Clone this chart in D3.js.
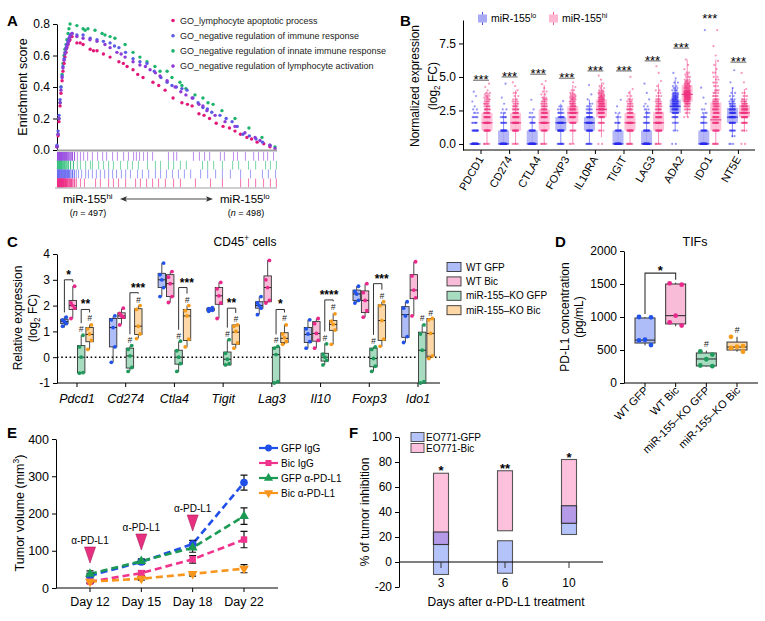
<!DOCTYPE html>
<html><head><meta charset="utf-8">
<script src="https://cdn.jsdelivr.net/npm/d3@7"></script>
<style>
body{margin:0;background:#fff;}
svg{font-family:"Liberation Sans",Arial,Helvetica,sans-serif;}
</style></head><body>
<svg id="fig" width="765" height="621"></svg>
<script>
// ===================== DATA =====================
// ---- Panel A (GSEA) : [rank, enrichment score]
const aSeriesNames = ["GO_lymphocyte apoptotic process","GO_negative regulation of immune response","GO_negative regulation of innate immune response","GO_negative regulation of lymphocyte activation"];
const aYTicks = [0, 0.2, 0.4, 0.6, 0.8];
const aLymphApoptotic = [[0,0.02],[5,0.09],[9,0.18],[14,0.28],[18,0.36],[23,0.44],[27,0.5],[32,0.55],[36,0.59],[41,0.62],[45,0.65],[50,0.67],[54,0.69],[59,0.7],[68,0.72],[90,0.68],[105,0.68],[118,0.67],[150,0.64],[165,0.63],[181,0.63],[210,0.61],[240,0.59],[280,0.56],[300,0.55],[317,0.53],[344,0.51],[365,0.48],[389,0.46],[434,0.43],[460,0.41],[489,0.38],[525,0.33],[565,0.3],[590,0.29],[611,0.28],[642,0.23],[665,0.22],[690,0.2],[720,0.17],[751,0.15],[780,0.14],[805,0.12],[830,0.1],[859,0.08],[880,0.07],[905,0.05],[935,0.04],[963,0.02]];
const aNegImmune = [[0,0.03],[5,0.12],[9,0.22],[14,0.32],[18,0.4],[23,0.47],[27,0.53],[32,0.58],[36,0.62],[41,0.65],[45,0.67],[50,0.69],[54,0.71],[59,0.73],[68,0.74],[90,0.73],[118,0.73],[150,0.71],[181,0.7],[210,0.69],[240,0.68],[260,0.66],[280,0.65],[310,0.62],[344,0.58],[375,0.56],[407,0.55],[440,0.5],[470,0.46],[498,0.43],[520,0.41],[540,0.4],[565,0.39],[588,0.38],[615,0.33],[638,0.3],[660,0.27],[680,0.26],[700,0.24],[737,0.22],[765,0.2],[792,0.18],[815,0.15],[841,0.1],[870,0.09],[900,0.07],[930,0.05],[963,0.03]];
const aNegInnate = [[0,0.02],[5,0.1],[9,0.2],[14,0.3],[18,0.4],[23,0.48],[27,0.55],[32,0.6],[36,0.64],[41,0.67],[45,0.7],[50,0.74],[54,0.77],[59,0.8],[90,0.79],[118,0.77],[127,0.76],[140,0.77],[172,0.76],[204,0.74],[217,0.73],[240,0.72],[262,0.71],[308,0.67],[344,0.62],[375,0.59],[407,0.56],[443,0.53],[466,0.5],[498,0.5],[520,0.46],[556,0.43],[565,0.41],[583,0.39],[624,0.35],[660,0.33],[683,0.3],[706,0.29],[746,0.25],[805,0.2],[868,0.14],[927,0.08],[986,0.02]];
const aNegLymphAct = [[0,0.02],[5,0.1],[9,0.2],[14,0.3],[18,0.38],[23,0.46],[27,0.52],[32,0.57],[36,0.61],[41,0.64],[45,0.66],[50,0.68],[54,0.7],[59,0.72],[68,0.74],[90,0.72],[118,0.71],[149,0.7],[181,0.69],[217,0.67],[240,0.65],[271,0.62],[290,0.61],[308,0.59],[344,0.56],[375,0.54],[400,0.53],[421,0.51],[445,0.49],[466,0.47],[498,0.44],[534,0.4],[560,0.37],[583,0.35],[611,0.33],[642,0.29],[660,0.28],[678,0.25],[715,0.22],[760,0.18],[805,0.15],[850,0.11],[896,0.08],[918,0.06],[963,0.03],[986,0.01]];
// hit ranks per gene set (rows top to bottom: lymphocyte activation, innate, immune response, apoptotic)
const aHitsLymphAct = [0,2,4,6,8,10,12,14,16,18,20,22,25,28,31,34,37,40,44,48,52,57,62,68,77,90,104,118,136,158,181,204,222,249,271,299,321,344,357,371,389,407,430,502,525,539,615,642,665,688,737,755,796,814,850,887,909,932,950,977];
const aHitsInnate = [0,3,6,9,12,15,18,21,25,29,33,38,43,49,59,72,90,104,127,149,158,186,208,231,253,285,317,339,366,407,443,466,502,525,556,583,656,679,706,746,792,819,864,896,941,963,990];
const aHitsImmune = [0,2,4,6,8,10,13,16,19,22,25,28,32,36,40,45,50,55,61,68,76,85,95,109,127,140,158,176,194,213,231,249,267,289,308,330,362,384,412,443,466,493,520,547,574,602,647,679,715,746,782,828,873,927,954,986];
const aHitsApoptotic = [0,2,4,6,8,10,12,14,16,18,20,22,24,27,30,33,36,40,44,48,53,58,64,70,78,86,104,122,172,194,231,253,276,308,353,375,403,430,457,488,525,556,624,692,746,828,864,896,932,963,990];
const aRankMax = 995;

// ---- Panel B : box stats [whiskerLow, q1, median, q3, whiskerHigh], points [value, count]
const bGenes = ["PDCD1","CD274","CTLA4","FOXP3","IL10RA","TIGIT","LAG3","ADA2","IDO1","NT5E"];
const bYTicks = [0, 2.5, 5, 7.5];
const bBoxLo = [[0,0,0,0,0],[0,0,0,1,2.3],[0,0,0,1,2],[0,1,1.58,2,3],[0,1,1.58,2,3.3],[0,0,0,1,2.3],[0,0,0,1,2.5],[1,2.32,2.81,3.32,4.8],[0,0,0,1,2.3],[0.5,1.58,2,2.7,4.2]];
const bBoxHi = [[0,1,1.58,2.32,3.9],[0,1,1.58,2.32,4],[0,1,1.58,2.58,4.4],[0,1.58,2.32,2.81,4.4],[0.5,2,2.58,3.32,4.6],[0,1,1.58,2.32,4],[0,1,1.58,2.4,4.5],[2,3.17,3.7,4.39,6.3],[0,1,1.8,3.1,6.3],[0.9,2,2.32,2.9,4.1]];
const bPtsLo = [
 [[0,50],[1,14],[1.58,6],[2,5],[2.32,3],[2.58,2],[2.81,1],[3.17,1],[3.58,1],[3.9,1]],
 [[0,40],[1,18],[1.58,8],[2,6],[2.32,3],[2.58,2],[3,1],[3.46,1],[4.5,1]],
 [[0,45],[1,16],[1.58,7],[2,4],[2.32,2],[2.58,1],[3.3,1]],
 [[0,10],[1,22],[1.58,18],[2,10],[2.32,6],[2.58,3],[2.81,2],[3.2,1]],
 [[0,8],[1,18],[1.58,20],[2,14],[2.32,8],[2.58,5],[2.81,3],[3,2],[3.32,1],[3.7,1],[4.4,1]],
 [[0,50],[1,14],[1.58,6],[2,3],[2.32,2],[2.81,1],[3.3,1]],
 [[0,45],[1,16],[1.58,8],[2,5],[2.32,4],[2.58,3],[2.81,2],[3,1],[3.32,1],[3.81,1],[4.5,1]],
 [[0,2],[1,3],[1.58,5],[2,8],[2.32,12],[2.58,14],[2.81,15],[3,14],[3.17,12],[3.32,10],[3.46,8],[3.58,7],[3.7,6],[3.81,5],[4,4],[4.17,3],[4.32,2],[4.58,2],[4.9,1],[5.3,1]],
 [[0,48],[1,14],[1.58,7],[2,5],[2.32,3],[2.58,2],[3,1],[3.46,1],[4.2,1],[8.5,1]],
 [[0,3],[0.58,2],[1,8],[1.58,14],[2,18],[2.32,15],[2.58,12],[2.81,9],[3,6],[3.17,4],[3.32,3],[3.58,2],[3.81,2],[4.17,1],[4.6,1],[5.5,1]]
];
const bPtsHi = [
 [[0,6],[1,18],[1.58,20],[2,14],[2.32,12],[2.58,9],[2.81,7],[3,6],[3.17,5],[3.32,4],[3.46,3],[3.58,3],[3.7,2],[3.81,2],[4,1],[4.25,1],[4.5,1]],
 [[0,5],[1,16],[1.58,20],[2,15],[2.32,12],[2.58,9],[2.81,7],[3,5],[3.17,4],[3.32,3],[3.58,2],[3.81,2],[4,1],[4.32,1],[4.6,1]],
 [[0,6],[1,14],[1.58,18],[2,15],[2.32,13],[2.58,10],[2.81,8],[3,6],[3.17,5],[3.32,4],[3.46,3],[3.7,2],[3.91,2],[4.17,1],[4.46,1],[4.7,1]],
 [[0,3],[1,8],[1.58,14],[2,16],[2.32,15],[2.58,13],[2.81,11],[3,9],[3.17,7],[3.32,6],[3.46,5],[3.58,4],[3.7,3],[3.81,2],[4,2],[4.25,1],[4.6,1]],
 [[0,2],[1,4],[1.58,8],[2,12],[2.32,14],[2.58,15],[2.81,14],[3,12],[3.17,11],[3.32,9],[3.46,8],[3.58,6],[3.7,5],[3.81,4],[3.91,3],[4,3],[4.17,2],[4.32,2],[4.5,1],[4.8,1],[5.1,1]],
 [[0,8],[1,18],[1.58,18],[2,14],[2.32,10],[2.58,8],[2.81,6],[3,5],[3.17,4],[3.32,3],[3.58,2],[3.81,1],[4.1,1],[5.0,1]],
 [[0,6],[1,16],[1.58,18],[2,14],[2.32,12],[2.58,9],[2.81,7],[3,6],[3.17,5],[3.32,4],[3.58,3],[3.81,2],[4,2],[4.32,1],[4.7,1],[5.3,1],[5.8,1]],
 [[2,2],[2.32,3],[2.58,5],[2.81,7],[3,9],[3.17,11],[3.32,12],[3.46,13],[3.58,13],[3.7,12],[3.81,11],[3.91,10],[4,9],[4.17,8],[4.32,7],[4.46,6],[4.58,5],[4.7,4],[4.81,3],[5,3],[5.17,2],[5.32,2],[5.58,1],[5.9,1],[6.3,1]],
 [[0,8],[1,14],[1.58,14],[2,12],[2.32,11],[2.58,10],[2.81,9],[3,8],[3.17,7],[3.32,6],[3.58,5],[3.81,4],[4,4],[4.32,3],[4.58,3],[4.81,2],[5,2],[5.32,2],[5.58,1],[5.9,1],[6.2,1],[6.6,1],[7.3,1],[8.5,1]],
 [[0,2],[1,4],[1.58,10],[2,16],[2.32,18],[2.58,15],[2.81,12],[3,8],[3.17,6],[3.32,4],[3.58,3],[3.81,2],[4.1,1],[4.6,1],[5.3,1]]
];
const bSigLevel = [4.75, 5.0, 5.2, 4.9, 5.45, 5.45, 6.2, 7.15, 9.35, 6.1];
const bSigLabel = ["***","***","***","***","***","***","***","***","***","***"];

// ---- Panel C : box stats [min, q1, median, q3, max] and points
const cGenes = ["Pdcd1","Cd274","Ctla4","Tigit","Lag3","Il10","Foxp3","Ido1"];
const cGroups = ["WT GFP","WT Bic","miR-155–KO GFP","miR-155–KO Bic"];
const cYTicks = [-1, 0, 1, 2, 3, 4];
const cBoxWtGfp = [[1.15,1.3,1.38,1.47,1.58],[-0.2,0.4,1.15,1.5,1.58],[2.35,2.7,3.0,3.25,3.65],[1.78,1.8,1.85,1.9,1.92],[1.65,1.9,2.0,2.15,2.35],[0.35,0.57,0.88,1.15,1.45],[2.1,2.2,2.45,2.6,2.75],[0.57,0.77,1.65,1.96,2.15]];
const cBoxWtBic = [[1.5,1.85,2.0,2.2,2.75],[1.27,1.5,1.6,1.72,1.88],[2.12,2.35,2.85,3.2,3.32],[1.5,2.05,2.38,2.7,2.9],[2.1,2.15,2.7,3.15,3.77],[0.35,0.62,0.92,1.38,1.5],[1.55,1.73,2.2,2.57,2.85],[1.6,2.27,2.6,3.2,3.7]];
const cBoxKoGfp = [[-0.62,-0.6,0,0.45,0.85],[-0.54,-0.42,0.05,0.35,0.42],[-0.58,-0.27,0,0.27,0.6],[-0.3,-0.3,-0.08,0.2,0.68],[-1.0,-0.98,0.1,0.38,0.42],[-0.3,-0.15,0,0.15,0.53],[-0.55,-0.37,-0.05,0.35,0.4],[-1.0,-1.0,0.27,0.97,1.27]];
const cBoxKoBic = [[0.3,0.6,0.88,1.15,1.27],[0.73,0.88,1.2,1.88,2.0],[0.38,0.65,1.6,1.85,2.0],[0.35,0.5,0.97,1.25,1.25],[0.5,0.57,0.73,0.95,1.27],[0.5,1.04,1.27,1.42,1.7],[0.4,0.65,1.42,2.03,2.15],[-0.05,0.04,0.92,1.5,1.5]];
const cPtsWtGfp = [[1.2,1.3,1.38,1.45,1.55],[-0.2,0.4,1.15,1.45,1.6],[2.35,2.7,3.0,3.2,3.65],[1.78,1.82,1.85,1.88,1.92],[1.65,1.9,2.0,2.1,2.35],[0.35,0.6,0.9,1.1,1.45],[2.1,2.2,2.45,2.55,2.75],[0.57,0.8,1.6,1.9,2.15]];
const cPtsWtBic = [[1.5,1.9,2.0,2.1,2.75],[1.25,1.55,1.6,1.7,1.9],[2.12,2.35,2.85,3.1,3.32],[1.5,2.1,2.38,2.65,2.9],[2.1,2.2,2.7,3.0,3.75],[0.35,0.65,0.92,1.3,1.5],[1.55,1.8,2.2,2.5,2.85],[1.6,2.3,2.6,3.15,3.7]];
const cPtsKoGfp = [[-0.62,-0.6,0.0,0.4,0.85],[-0.55,-0.4,0.05,0.3,0.45],[-0.55,-0.25,0.0,0.25,0.62],[-0.3,-0.25,-0.08,0.15,0.68],[-1.0,-0.95,0.1,0.35,0.42],[-0.3,-0.12,0.0,0.12,0.52],[-0.55,-0.35,-0.05,0.3,0.4],[-1.0,-0.95,0.27,0.9,1.25]];
const cPtsKoBic = [[0.3,0.65,0.9,1.1,1.25],[0.72,0.9,1.2,1.85,2.0],[0.4,0.7,1.6,1.8,2.0],[0.35,0.55,1.0,1.2,1.25],[0.5,0.6,0.75,0.9,1.25],[0.5,1.05,1.27,1.4,1.68],[0.42,0.7,1.42,2.0,2.15],[-0.05,0.05,0.92,1.45,1.5]];
const cSigGene = ["Pdcd1","Pdcd1","Cd274","Ctla4","Tigit","Lag3","Il10","Foxp3"];
const cSigPair = [[0,1],[2,3],[2,3],[2,3],[2,3],[2,3],[2,3],[2,3]];
const cSigLevel = [3.0, 1.85, 2.5, 2.7, 1.9, 1.85, 2.22, 2.85];
const cSigLabel = ["*","**","***","***","**","*","****","***"];
const cHashGroups = [2, 3];

// ---- Panel D
const dGroups = ["WT GFP","WT Bic","miR-155–KO GFP","miR-155–KO Bic"];
const dYTicks = [0, 500, 1000, 1500, 2000];
const dBox = [[570,606,650,985,1000],[860,895,1020,1500,1520],[250,258,364,455,490],[475,500,545,620,700]];
const dPts = [[1000,995,655,645,575],[1510,1490,1020,920,870],[480,430,360,265,255],[700,560,550,530,475]];
const dSigLevel = 1665, dSigLabel = "*";

// ---- Panel E
const eDays = ["Day 12","Day 15","Day 18","Day 22"];
const eYTicks = [0, 100, 200, 300, 400];
const eNames = ["GFP IgG","Bic IgG","GFP α-PD-L1","Bic α-PD-L1"];
const eGfpIgG = [33, 70, 118, 283];
const eGfpIgGErr = [6, 6, 10, 20];
const eBicIgG = [17, 40, 77, 130];
const eBicIgGErr = [4, 6, 10, 22];
const eGfpPD = [38, 72, 108, 193];
const eGfpPDErr = [8, 6, 12, 22];
const eBicPD = [17, 25, 38, 52];
const eBicPDErr = [4, 4, 6, 11];
const eTreatDays = ["Day 12","Day 15","Day 18"];
const eTreatLevel = [67, 102, 153];

// ---- Panel F
const fDays = ["3","6","10"];
const fYTicks = [-20, 0, 20, 40, 60, 80, 100];
const fGfpRange = [[-10,24],[-9,17],[22,45]];
const fBicRange = [[14,71],[25,73],[31,82]];
const fSig = ["*","**","*"];

// ===================== DRAWING =====================
const svg = d3.select("#fig");
const FONT = '"Liberation Sans", Arial, Helvetica, sans-serif';
function styleAxis(g, fs){
  g.attr("font-family", FONT).attr("font-size", fs);
  g.selectAll("path.domain").attr("stroke","#000").attr("stroke-width",1);
  g.selectAll(".tick line").attr("stroke","#000");
  g.selectAll(".tick text").attr("fill","#000");
}
function rich(t, parts, fs){
  let shift = 0;
  parts.forEach(([s,k])=>{
    const ts = t.append("tspan").text(s);
    const target = k==="sup" ? -0.38*fs : (k==="sub" ? 0.28*fs : 0);
    if(target !== shift){ ts.attr("dy", target-shift); shift = target; }
    if(k==="sup"||k==="sub") ts.attr("font-size", fs*0.68);
    if(k==="it") ts.attr("font-style","italic");
  });
  return t;
}
function label(x,y,txt,fs,anchor){
  return svg.append("text").attr("x",x).attr("y",y).attr("font-size",fs).attr("text-anchor",anchor||"start").attr("fill","#000").text(txt);
}
function panelLetter(x,y,t){ label(x,y,t,15,"start").attr("font-weight","bold"); }
function vLabel(cx,cy,fs,parts){
  const t = svg.append("text").attr("transform",`translate(${cx},${cy}) rotate(-90)`).attr("text-anchor","middle").attr("font-size",fs).attr("fill","#000");
  rich(t, parts, fs); return t;
}

// ---------- Panel A ----------
{
  const xA = d3.scaleLinear().domain([0, aRankMax]).range([57, 277]);
  const yA = d3.scaleLinear().domain([0, 0.8]).range([150, 24]);
  const g = svg.append("g");
  const ax = g.append("g").attr("transform","translate(57,0)")
    .call(d3.axisLeft(yA).tickValues(aYTicks).tickFormat(d3.format(".1f")).tickSize(4).tickSizeOuter(0));
  styleAxis(ax, 12);
  const colors = ["#e2177a","#5b5be6","#1cb36c","#8d3bd6"];
  const series = [aLymphApoptotic, aNegImmune, aNegInnate, aNegLymphAct];
  [2,0,1,3].forEach(si=>{
    g.selectAll(null).data(series[si]).enter().append("circle")
      .attr("cx", d=>xA(d[0])).attr("cy", d=>yA(d[1])).attr("r",1.7).attr("fill", colors[si]);
  });
  const rows = [[aHitsLymphAct,"#9a4fe0"],[aHitsInnate,"#2fbf7a"],[aHitsImmune,"#6a6af0"],[aHitsApoptotic,"#ee2b85"]];
  rows.forEach(([hits,col],ri)=>{
    const y0 = 152 + ri*8.8;
    g.selectAll(null).data(hits).enter().append("line")
      .attr("x1",d=>xA(d)+0.5).attr("x2",d=>xA(d)+0.5).attr("y1",y0).attr("y2",y0+8.8)
      .attr("stroke",col).attr("stroke-width",1.1).attr("stroke-opacity",d=>d<80?0.95:0.6);
  });
  g.append("line").attr("x1",57).attr("x2",277).attr("y1",150.5).attr("y2",150.5).attr("stroke","#a0a0a0").attr("stroke-width",2);
  g.append("line").attr("x1",55).attr("x2",277).attr("y1",188).attr("y2",188).attr("stroke","#888").attr("stroke-width",0.8);
  aSeriesNames.forEach((n,i)=>{
    g.append("circle").attr("cx",173).attr("cy",20.5+i*15.2).attr("r",1.8).attr("fill",colors[i]);
    g.append("text").attr("x",180).attr("y",23.5+i*15.2).attr("font-size",9).attr("fill","#222").text(n);
  });
  rich(g.append("text").attr("x",63).attr("y",203).attr("font-size",11.5), [["miR-155",null],["hi","sup"]], 11.5);
  rich(g.append("text").attr("x",220).attr("y",203).attr("font-size",11.5), [["miR-155",null],["lo","sup"]], 11.5);
  rich(g.append("text").attr("x",88).attr("y",216).attr("font-size",9).attr("text-anchor","middle"), [["(",null],["n","it"],[" = 497)",null]], 9);
  rich(g.append("text").attr("x",246).attr("y",216).attr("font-size",9).attr("text-anchor","middle"), [["(",null],["n","it"],[" = 498)",null]], 9);
  g.append("line").attr("x1",124).attr("x2",209).attr("y1",199).attr("y2",199).attr("stroke","#333").attr("stroke-width",0.9);
  g.append("path").attr("d","M120,199 L127,196.3 L125.5,199 L127,201.7 Z").attr("fill","#333");
  g.append("path").attr("d","M213,199 L206,196.3 L207.5,199 L206,201.7 Z").attr("fill","#333");
  panelLetter(7,26,"A");
  vLabel(26.5,87,12.5,[["Enrichment score",null]]);
}

// ---------- Panel B ----------
{
  const xB = d3.scaleBand().domain(bGenes).range([466.7, 752.7]);
  const yB = d3.scaleLinear().domain([-0.45, 9.25]).range([150, 20]);
  const g = svg.append("g");
  const ax = g.append("g").attr("transform","translate(463,0)")
    .call(d3.axisLeft(yB).tickValues(bYTicks).tickFormat(d3.format(".1f")).tickSize(4).tickSizeOuter(0));
  styleAxis(ax, 12);
  g.append("line").attr("x1",463).attr("x2",755).attr("y1",150).attr("y2",150).attr("stroke","#000");
  const cx = d => xB(d) + xB.bandwidth()/2;
  bGenes.forEach((gn,i)=>{
    g.append("line").attr("x1",cx(gn)).attr("x2",cx(gn)).attr("y1",150).attr("y2",154).attr("stroke","#000");
    g.append("text").attr("transform",`translate(${cx(gn)+3},159) rotate(-60)`).attr("text-anchor","end")
      .attr("font-size",11).attr("fill","#000").text(gn);
  });
  const sets = [[bBoxLo,bPtsLo,-6,"#a9aaf6","#3a3ad8","#2b2bef"],[bBoxHi,bPtsHi,6,"#ffb7d2","#e8448a","#f0307d"]];
  sets.forEach(([boxes,pts,off,fill,med,ptc])=>{
    bGenes.forEach((gn,i)=>{
      const b = boxes[i], x = cx(gn)+off;
      g.append("line").attr("x1",x).attr("x2",x).attr("y1",yB(b[0])).attr("y2",yB(b[4])).attr("stroke",ptc).attr("stroke-width",0.8).attr("stroke-opacity",0.7);
      g.append("rect").attr("x",x-5.5).attr("width",11).attr("y",yB(b[3])).attr("height",Math.max(0.01,yB(b[1])-yB(b[3]))).attr("fill",fill).attr("fill-opacity",0.85);
      g.append("line").attr("x1",x-5.5).attr("x2",x+5.5).attr("y1",yB(b[2])).attr("y2",yB(b[2])).attr("stroke",med).attr("stroke-width",1.2);
    });
  });
  sets.forEach(([boxes,pts,off,fill,med,ptc])=>{
    bGenes.forEach((gn,i)=>{
      let k = 0;
      pts[i].forEach(([v,n])=>{
        for(let j=0;j<n;j++){
          const jit = (((k*0.618034)%1)-0.5)*6; k++;
          g.append("circle").attr("cx",cx(gn)+off+jit).attr("cy",yB(v)).attr("r",1.1).attr("fill",ptc).attr("fill-opacity",0.5);
        }
      });
    });
  });
  bGenes.forEach((gn,i)=>{
    const ly = yB(bSigLevel[i]);
    if(bSigLevel[i] <= yB.domain()[1]) g.append("line").attr("x1",cx(gn)-8).attr("x2",cx(gn)+8).attr("y1",ly).attr("y2",ly).attr("stroke","#8a8a8a").attr("stroke-width",1.3);
    g.append("text").attr("x",cx(gn)).attr("y",ly+4).attr("text-anchor","middle").attr("font-size",13).attr("fill","#000").text(bSigLabel[i]);
  });
  [[478,"#a9aaf6","#3a3ad8","lo",491],[549,"#ffb7d2","#e8448a","hi",562]].forEach(([x,f,c,s,tx])=>{
    g.append("line").attr("x1",x+4.5).attr("x2",x+4.5).attr("y1",12).attr("y2",25).attr("stroke",c).attr("stroke-width",0.9);
    g.append("rect").attr("x",x).attr("y",14.5).attr("width",9).attr("height",8).attr("fill",f);
    rich(g.append("text").attr("x",tx).attr("y",21.5).attr("font-size",10.5), [["miR-155",null],[s,"sup"]], 10.5);
  });
  panelLetter(400,26,"B");
  vLabel(419,86,12,[["Normalized expression",null]]);
  vLabel(437,86,12,[["(log",null],["2","sub"],[" FC)",null]]);
}

// ---------- Panel C ----------
{
  const xC = d3.scalePoint().domain(cGenes).range([77, 418]);
  const yC = d3.scaleLinear().domain([-1, 4]).range([383, 254]);
  const g = svg.append("g");
  const ax = g.append("g").attr("transform","translate(57,0)")
    .call(d3.axisLeft(yC).tickValues(cYTicks).tickFormat(d=>String(d)).tickSize(4).tickSizeOuter(0));
  styleAxis(ax, 12);
  g.append("line").attr("x1",57).attr("x2",440).attr("y1",383).attr("y2",383).attr("stroke","#000");
  g.append("line").attr("x1",57).attr("x2",440).attr("y1",yC(0)).attr("y2",yC(0)).attr("stroke","#000").attr("stroke-width",1.6).attr("stroke-dasharray","1.6,2.6");
  cGenes.forEach(gn=>{
    g.append("line").attr("x1",xC(gn)).attr("x2",xC(gn)).attr("y1",383).attr("y2",387).attr("stroke","#000");
    g.append("text").attr("x",xC(gn)).attr("y",403).attr("text-anchor","middle").attr("font-size",12.5).attr("font-style","italic").attr("fill","#000").text(gn);
  });
  const offs = [-12.6,-4.2,4.2,12.6];
  const fills = ["#aebcf7","#f8bbd8","#a7dcc1","#fdd8a6"];
  const pcols = ["#2152ea","#e8288a","#1f9a5c","#f59b1c"];
  const boxes = [cBoxWtGfp,cBoxWtBic,cBoxKoGfp,cBoxKoBic];
  const pts = [cPtsWtGfp,cPtsWtBic,cPtsKoGfp,cPtsKoBic];
  const jit = [-1.8,1.8,0,-1.8,1.8];
  cGenes.forEach((gn,i)=>{
    boxes.forEach((bx,gi)=>{
      const b = bx[i], x = xC(gn)+offs[gi];
      g.append("line").attr("x1",x).attr("x2",x).attr("y1",yC(b[0])).attr("y2",yC(b[4])).attr("stroke","#333").attr("stroke-width",0.9);
      g.append("rect").attr("x",x-3.7).attr("width",7.4).attr("y",yC(b[3])).attr("height",yC(b[1])-yC(b[3])).attr("fill",fills[gi]).attr("stroke","#333").attr("stroke-width",0.9);
      g.append("line").attr("x1",x-3.7).attr("x2",x+3.7).attr("y1",yC(b[2])).attr("y2",yC(b[2])).attr("stroke","#222").attr("stroke-width",1);
      g.selectAll(null).data(pts[gi][i]).enter().append("circle")
        .attr("cx",(d,j)=>x+jit[j]).attr("cy",d=>yC(d)).attr("r",1.9).attr("fill",pcols[gi]);
      if(cHashGroups.includes(gi)) g.append("text").attr("x",x).attr("y",yC(b[4])-3).attr("text-anchor","middle").attr("font-size",8.5).attr("font-style","italic").attr("fill","#222").text("#");
    });
  });
  cSigGene.forEach((gn,si)=>{
    const i = cGenes.indexOf(gn);
    const [a,b] = cSigPair[si];
    const xa = xC(gn)+offs[a], xb = xC(gn)+offs[b];
    const top = yC(cSigLevel[si]);
    const legA = yC(boxes[a][i][4]) - (cHashGroups.includes(a)?12:4);
    const legB = yC(boxes[b][i][4]) - (cHashGroups.includes(b)?12:4);
    g.append("path").attr("d",`M${xa},${legA}V${top}H${xb}V${legB}`).attr("fill","none").attr("stroke","#333").attr("stroke-width",1);
    g.append("text").attr("x",(xa+xb)/2+ (cSigLabel[si].length===3?4:0)).attr("y",top-1).attr("text-anchor","middle").attr("font-size",12).attr("font-weight","bold").attr("fill","#000").text(cSigLabel[si]);
  });
  cGroups.forEach((n,gi)=>{
    const y = 267 + gi*14.4;
    g.append("rect").attr("x",447).attr("y",y-4.5).attr("width",14).attr("height",9).attr("fill",fills[gi]).attr("stroke","#333").attr("stroke-width",0.9);
    g.append("text").attr("x",466).attr("y",y+3.5).attr("font-size",10).attr("fill","#000").text(n);
  });
  rich(g.append("text").attr("x",245).attr("y",246).attr("text-anchor","middle").attr("font-size",12), [["CD45",null],["+","sup"],[" cells",null]], 12);
  panelLetter(7,247,"C");
  vLabel(22,318,12,[["Relative expression",null]]);
  vLabel(37,318,12,[["(log",null],["2","sub"],[" FC)",null]]);
}

// ---------- Panel D ----------
{
  const xD = d3.scalePoint().domain(dGroups).range([645, 737]);
  const yD = d3.scaleLinear().domain([0, 2000]).range([383, 251]);
  const g = svg.append("g");
  const ax = g.append("g").attr("transform","translate(624,0)")
    .call(d3.axisLeft(yD).tickValues(dYTicks).tickFormat(d=>String(d)).tickSize(4).tickSizeOuter(0));
  styleAxis(ax, 12);
  g.append("line").attr("x1",624).attr("x2",758).attr("y1",383).attr("y2",383).attr("stroke","#000");
  const fills = ["#aebcf7","#f8bbd8","#a7dcc1","#fdd8a6"];
  const pcols = ["#2152ea","#e8288a","#1f9a5c","#f59b1c"];
  const jit = [-6,6,0,-6,6];
  dGroups.forEach((n,i)=>{
    const x = xD(n), b = dBox[i];
    g.append("line").attr("x1",x).attr("x2",x).attr("y1",383).attr("y2",387).attr("stroke","#000");
    g.append("text").attr("transform",`translate(${x+4},391) rotate(-45)`).attr("text-anchor","end").attr("font-size",11).attr("fill","#000").text(n);
    g.append("line").attr("x1",x).attr("x2",x).attr("y1",yD(b[0])).attr("y2",yD(b[4])).attr("stroke","#333").attr("stroke-width",1);
    g.append("rect").attr("x",x-10).attr("width",20).attr("y",yD(b[3])).attr("height",yD(b[1])-yD(b[3])).attr("fill",fills[i]).attr("stroke","#333").attr("stroke-width",1);
    g.append("line").attr("x1",x-10).attr("x2",x+10).attr("y1",yD(b[2])).attr("y2",yD(b[2])).attr("stroke","#222").attr("stroke-width",1);
    g.selectAll(null).data(dPts[i]).enter().append("circle").attr("cx",(d,j)=>x+jit[j]).attr("cy",d=>yD(d)).attr("r",2.4).attr("fill",pcols[i]);
    if(i>=2) g.append("text").attr("x",x).attr("y",yD(b[4])-4).attr("text-anchor","middle").attr("font-size",9).attr("font-style","italic").attr("fill","#222").text("#");
  });
  const x0 = xD(dGroups[0]), x1 = xD(dGroups[1]), top = yD(dSigLevel);
  g.append("path").attr("d",`M${x0},${yD(dBox[0][4])-3}V${top}H${x1}V${yD(dBox[1][4])-3}`).attr("fill","none").attr("stroke","#333").attr("stroke-width",1.1);
  g.append("text").attr("x",(x0+x1)/2).attr("y",top+2).attr("text-anchor","middle").attr("font-size",13).attr("font-weight","bold").text(dSigLabel);
  label(695,246,"TIFs",12.5,"middle");
  panelLetter(555,247,"D");
  vLabel(569,317,12,[["PD-L1 concentration",null]]);
  vLabel(583,317,12,[["(pg/mL)",null]]);
}

// ---------- Panel E ----------
{
  const xE = d3.scalePoint().domain(eDays).range([90, 244]);
  const yE = d3.scaleLinear().domain([0, 400]).range([588, 439]);
  const g = svg.append("g");
  const ax = g.append("g").attr("transform","translate(56,0)")
    .call(d3.axisLeft(yE).tickValues(eYTicks).tickSize(4).tickSizeOuter(0));
  styleAxis(ax, 12.5);
  g.append("line").attr("x1",56).attr("x2",278).attr("y1",588).attr("y2",588).attr("stroke","#000");
  eDays.forEach(d=>{
    g.append("line").attr("x1",xE(d)).attr("x2",xE(d)).attr("y1",588).attr("y2",592).attr("stroke","#000");
    g.append("text").attr("x",xE(d)).attr("y",606).attr("text-anchor","middle").attr("font-size",12.5).attr("fill","#000").text(d);
  });
  const vals = [eGfpIgG,eBicIgG,eGfpPD,eBicPD];
  const errs = [eGfpIgGErr,eBicIgGErr,eGfpPDErr,eBicPDErr];
  const cols = ["#1f4ee8","#f0338c","#1a9a52","#f7951d"];
  const syms = [d3.symbolCircle,d3.symbolSquare,d3.symbolTriangle,d3.symbolTriangle];
  const rot = [0,0,0,180];
  const line = d3.line().x((d,i)=>xE(eDays[i])).y(d=>yE(d));
  vals.forEach((v,si)=>{
    g.append("path").attr("d",line(v)).attr("fill","none").attr("stroke",cols[si]).attr("stroke-width",2.6).attr("stroke-dasharray","7,4");
  });
  vals.forEach((v,si)=>{
    v.forEach((d,i)=>{
      const x = xE(eDays[i]), y1 = yE(d+errs[si][i]), y2 = yE(d-errs[si][i]);
      g.append("path").attr("d",`M${x-3.5},${y1}H${x+3.5}M${x},${y1}V${y2}M${x-3.5},${y2}H${x+3.5}`).attr("stroke","#111").attr("stroke-width",1.2).attr("fill","none");
    });
  });
  vals.forEach((v,si)=>{
    v.forEach((d,i)=>{
      g.append("path").attr("d",d3.symbol().type(syms[si]).size(si===0?46:42)())
        .attr("transform",`translate(${xE(eDays[i])},${yE(d)}) rotate(${rot[si]})`).attr("fill",cols[si]);
    });
  });
  eTreatDays.forEach((d,i)=>{
    const x = xE(d), yt = yE(eTreatLevel[i]);
    g.append("path").attr("d",`M${x},${yt}L${x-5.5},${yt-16}L${x+5.5},${yt-16}Z`).attr("fill","#e6307f").attr("stroke","#a81d5a").attr("stroke-width",0.6);
    g.append("text").attr("x",x).attr("y",yt-19).attr("text-anchor","middle").attr("font-size",10).attr("fill","#000").text("α-PD-L1");
  });
  eNames.forEach((n,si)=>{
    const y = 448 + si*15;
    g.append("line").attr("x1",259).attr("x2",278).attr("y1",y).attr("y2",y).attr("stroke",cols[si]).attr("stroke-width",2.2);
    g.append("path").attr("d",d3.symbol().type(syms[si]).size(36)()).attr("transform",`translate(268.5,${y}) rotate(${rot[si]})`).attr("fill",cols[si]);
    g.append("text").attr("x",281).attr("y",y+3.5).attr("font-size",10).attr("fill","#000").text(n);
  });
  panelLetter(7,438,"E");
  vLabel(24,513,12.5,[["Tumor volume (mm",null],["3","sup"],[")",null]]);
}

// ---------- Panel F ----------
{
  const xF = d3.scalePoint().domain(fDays).range([441, 569]);
  const yF = d3.scaleLinear().domain([-20, 100]).range([587, 437]);
  const g = svg.append("g");
  const bw = 15;
  fDays.forEach((d,i)=>{
    const x = xF(d)-bw/2;
    const [gl,gh] = fGfpRange[i], [bl,bh] = fBicRange[i];
    g.append("rect").attr("x",x).attr("width",bw).attr("y",yF(gh)).attr("height",yF(gl)-yF(gh)).attr("fill","#b5c3fb").attr("stroke","#555").attr("stroke-width",1.1);
    g.append("rect").attr("x",x).attr("width",bw).attr("y",yF(bh)).attr("height",yF(bl)-yF(bh)).attr("fill","#fdc1dd").attr("stroke","#555").attr("stroke-width",1.1);
    const ol = Math.max(gl,bl), oh = Math.min(gh,bh);
    if(oh>ol) g.append("rect").attr("x",x).attr("width",bw).attr("y",yF(oh)).attr("height",yF(ol)-yF(oh)).attr("fill","#b59ae8").attr("stroke","#333").attr("stroke-width",1.1);
    g.append("text").attr("x",xF(d)).attr("y",yF(bh)+2).attr("text-anchor","middle").attr("font-size",13).attr("font-weight","bold").text(fSig[i]);
  });
  const ax = g.append("g").attr("transform","translate(399,0)")
    .call(d3.axisLeft(yF).tickValues(fYTicks).tickFormat(d=>String(d)).tickSize(4).tickSizeOuter(0));
  styleAxis(ax, 12);
  g.append("line").attr("x1",399).attr("x2",603).attr("y1",yF(0)).attr("y2",yF(0)).attr("stroke","#000");
  fDays.forEach(d=>{
    g.append("line").attr("x1",xF(d)).attr("x2",xF(d)).attr("y1",yF(0)).attr("y2",yF(0)+6).attr("stroke","#333");
    g.append("text").attr("x",xF(d)).attr("y",587).attr("text-anchor","middle").attr("font-size",12).attr("fill","#000").text(d);
  });
  label(506,606,"Days after α-PD-L1 treatment",12,"middle");
  [["EO771-GFP","#b5c3fb"],["EO771-Bic","#fdc1dd"]].forEach(([n,f],i)=>{
    const y = 432.5 + i*11;
    g.append("rect").attr("x",411).attr("y",y).attr("width",13).attr("height",9).attr("fill",f).attr("stroke","#555").attr("stroke-width",1);
    g.append("text").attr("x",426).attr("y",y+8).attr("font-size",10).attr("fill","#000").text(n);
  });
  panelLetter(349,438,"F");
  vLabel(369,512,12,[["% of tumor inhibition",null]]);
}
</script></body></html>
